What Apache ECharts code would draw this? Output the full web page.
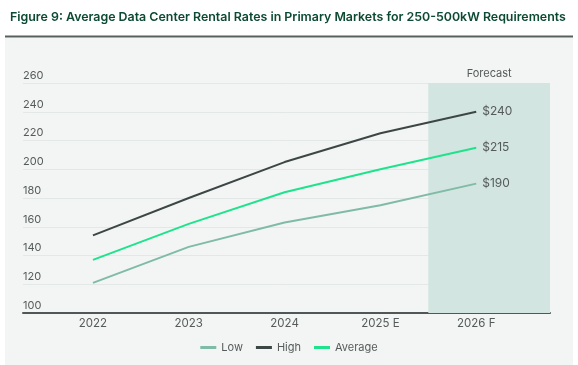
<!DOCTYPE html>
<html>
<head>
<meta charset="utf-8">
<script src="https://cdn.jsdelivr.net/npm/echarts@6/dist/echarts.min.js"></script>
<style>
html,body{margin:0;padding:0;background:#ffffff;}
#chart{width:578px;height:365px;}
</style>
</head>
<body>
<div id="chart"></div>
<script>
const categories = ['2022', '2023', '2024', '2025 E', '2026 F'];
const lowValues = [121, 146, 163, 175, 190];
const highValues = [154, 180, 205, 225, 240];
const averageValues = [137, 162, 184, 200, 215];
const yTicks = [100, 120, 140, 160, 180, 200, 220, 240, 260];
const forecastStart = 3.5; // boundary between 2025 E and 2026 F
const titleText = 'Figure 9: Average Data Center Rental Rates in Primary Markets for 250-500kW Requirements';

const FONT = 'Inter, "Open Sans", sans-serif';
const chart = echarts.init(document.getElementById('chart'));
const xMin = -0.73, xMax = 4.77;
function pts(arr){ return arr.map((v,i)=>[i,v]); }
function lineSeries(name, arr, color, extra){
  return Object.assign({
    name: name, type: 'line', data: pts(arr), symbol: 'none',
    lineStyle: {color: color, width: 2}, itemStyle: {color: color},
    endLabel: {show: true, formatter: p => '$' + p.value[1], distance: 6,
      color: '#555b5a', fontSize: 12, fontFamily: FONT},
    z: 3
  }, extra || {});
}
chart.setOption({
  backgroundColor: '#ffffff',
  animation: false,
  graphic: [
    {type: 'rect', shape: {x: 5, y: 38, width: 568, height: 327}, style: {fill: '#f3f5f4'}, z: -10, silent: true},
    {type: 'rect', shape: {x: 5, y: 35.5, width: 568, height: 2}, style: {fill: '#56605e'}, z: -9, silent: true}
  ],
  title: {
    text: titleText, left: 5, top: 6,
    textStyle: {color: '#0c4a33', fontSize: 12.4, fontWeight: 600, fontFamily: FONT}
  },
  legend: {
    bottom: 7, left: 'center', itemWidth: 16, itemHeight: 3, itemGap: 13,
    icon: 'rect',
    textStyle: {color: '#555b5a', fontSize: 11, fontFamily: FONT},
    data: ['Low', 'High', 'Average']
  },
  grid: {left: 23, right: 28, top: 83, bottom: 52, containLabel: false},
  xAxis: {
    type: 'value', min: xMin, max: xMax,
    axisLine: {show: true, onZero: false, lineStyle: {color: '#4f5856', width: 2}},
    axisTick: {show: false},
    splitLine: {show: false},
    axisLabel: {
      customValues: [0,1,2,3,4],
      formatter: v => categories[Math.round(v)],
      color: '#555b5a', fontSize: 11.5, fontFamily: FONT, margin: 5
    }
  },
  yAxis: {
    type: 'value', min: yTicks[0], max: yTicks[yTicks.length-1], interval: 20,
    axisLine: {show: false}, axisTick: {show: false},
    splitLine: {show: true, lineStyle: {color: '#e3e7e5', width: 1}},
    axisLabel: {
      inside: true, margin: 0, verticalAlign: 'bottom', padding: [0,0,2,0],
      color: '#555b5a', fontSize: 11, fontFamily: FONT
    }
  },
  series: [
    lineSeries('Low', lowValues, '#7fbba6', {
      markArea: {
        silent: true,
        itemStyle: {color: '#d3e5e0'},
        label: {show: true, position: 'top', distance: 4, color: '#555b5a', fontSize: 11, fontFamily: FONT},
        data: [[{name: 'Forecast', xAxis: forecastStart}, {xAxis: xMax}]]
      }
    }),
    lineSeries('High', highValues, '#3c4745'),
    lineSeries('Average', averageValues, '#1ee38c')
  ]
});
</script>
</body>
</html>
